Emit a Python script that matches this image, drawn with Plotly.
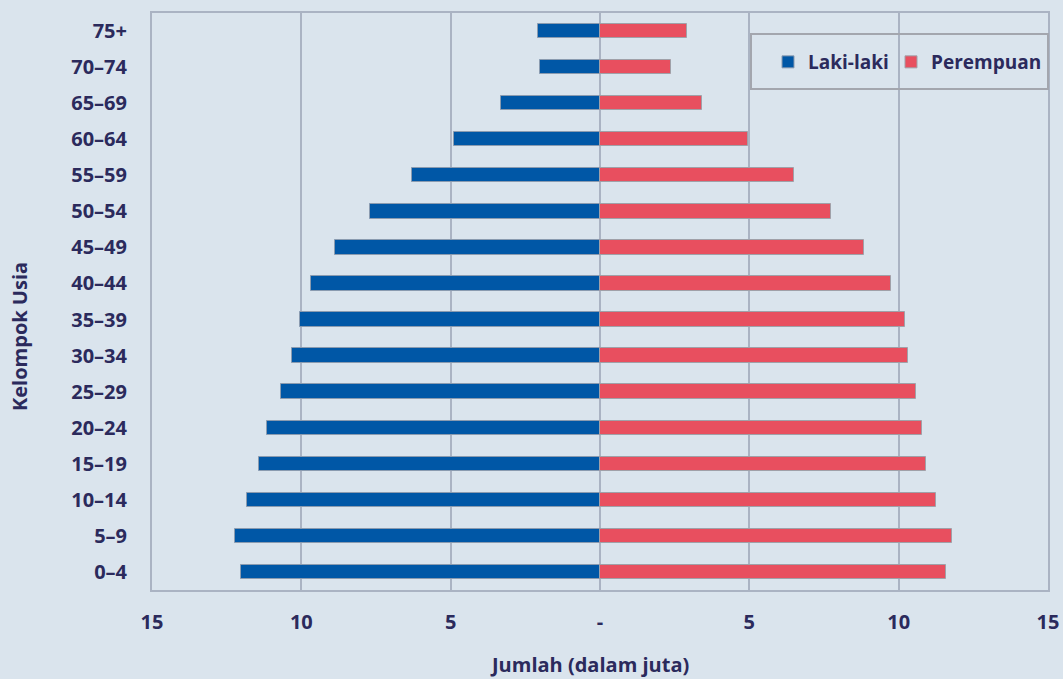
import plotly.graph_objects as go

age_groups = ["0–4", "5–9", "10–14", "15–19", "20–24", "25–29", "30–34", "35–39",
              "40–44", "45–49", "50–54", "55–59", "60–64", "65–69", "70–74", "75+"]
laki_laki = [12.02, 12.22, 11.82, 11.41, 11.14, 10.67, 10.30, 10.03,
             9.66, 8.87, 7.70, 6.30, 4.89, 3.32, 2.00, 2.06]
perempuan = [11.58, 11.78, 11.26, 10.93, 10.79, 10.57, 10.30, 10.21,
             9.73, 8.85, 7.75, 6.48, 4.94, 3.41, 2.37, 2.92]
tick_vals = [-15, -10, -5, 0, 5, 10, 15]
tick_text = ["15", "10", "5", "-", "5", "10", "15"]

BG = "#dae4ed"
TXT = "#2b2a5c"
GRID = "#aab3c3"
FONT = "Open Sans"
FS = 20

fig = go.Figure()
fig.add_trace(go.Bar(
    y=age_groups, x=[-v for v in laki_laki], orientation="h", name="Laki-laki",
    marker=dict(color="#0057a6", line=dict(color="#8a9bb0", width=1)),
    width=0.4, customdata=laki_laki, legend="legend",
    hovertemplate="%{y}: %{customdata}<extra>Laki-laki</extra>",
))
fig.add_trace(go.Bar(
    y=age_groups, x=perempuan, orientation="h", name="Perempuan",
    marker=dict(color="#e84f5f", line=dict(color="#a0a0a8", width=1)),
    width=0.4, legend="legend2",
))

L, R, T, B = 152, 15, 13, 89
W, H = 1063, 679
pw = W - L - R
ph = H - T - B

def px_x(x):
    return (x - L) / pw

def px_y(y):
    return (H - B - y) / ph

legend_common = dict(
    orientation="h", yanchor="middle", xanchor="left",
    bgcolor="rgba(0,0,0,0)", borderwidth=0,
    font=dict(family=FONT, size=19, color=TXT, weight=700),
)

fig.update_layout(
    width=W, height=H,
    paper_bgcolor=BG, plot_bgcolor=BG,
    margin=dict(l=L, r=R, t=T, b=B, autoexpand=False),
    barmode="overlay",
    bargap=0,
    showlegend=True,
    font=dict(family=FONT, color=TXT, size=FS, weight=700),
    legend=dict(x=px_x(768), y=px_y(62), **legend_common),
    legend2=dict(x=px_x(891), y=px_y(62), **legend_common),
    xaxis=dict(
        range=[-15, 15], tickvals=tick_vals, ticktext=tick_text,
        showgrid=True, gridcolor=GRID, gridwidth=1.5,
        zeroline=True, zerolinecolor=GRID, zerolinewidth=1.5,
        showline=True, linecolor=GRID, linewidth=2, mirror=True,
        ticks="", ticklabelstandoff=13,
        tickfont=dict(family=FONT, size=FS, color=TXT, weight=700),
        fixedrange=True,
    ),
    yaxis=dict(
        type="category", categoryorder="array", categoryarray=age_groups,
        range=[-0.5, 15.5],
        showgrid=False, showline=True, linecolor=GRID, linewidth=2, mirror=True,
        ticks="", ticklabelstandoff=19,
        tickfont=dict(family=FONT, size=FS, color=TXT, weight=700),
        fixedrange=True,
    ),
    shapes=[dict(
        type="rect", xref="paper", yref="paper",
        x0=px_x(751), x1=1.0, y0=px_y(89), y1=px_y(34),
        line=dict(color="#a3a6ae", width=2), fillcolor="rgba(0,0,0,0)", layer="above",
    )],
    annotations=[
        dict(text="Jumlah (dalam juta)", xref="paper", yref="paper",
             x=px_x(589), y=px_y(664), xanchor="center", yanchor="middle",
             showarrow=False, font=dict(family=FONT, size=FS, color=TXT, weight=700)),
        dict(text="Kelompok Usia", xref="paper", yref="paper",
             x=px_x(20), y=px_y(337), xanchor="center", yanchor="middle", textangle=-90,
             showarrow=False, font=dict(family=FONT, size=FS, color=TXT, weight=700)),
    ],
)

fig.write_html(
    "out.html",
    config={"displayModeBar": False},
    post_script="document.body.style.margin='0';document.body.style.background='" + BG + "';",
)
